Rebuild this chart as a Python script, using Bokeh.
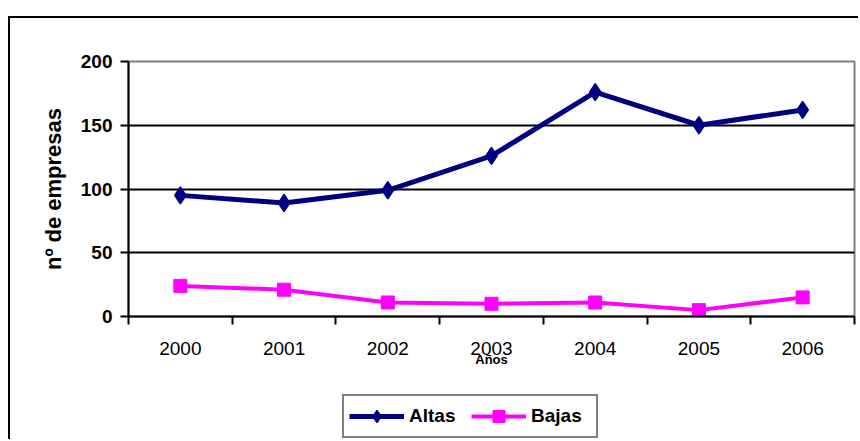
from bokeh.plotting import figure
from bokeh.models import FixedTicker, Legend, LegendItem, Spacer
from bokeh.layouts import column, row
from bokeh.embed import file_html
from bokeh.resources import INLINE

# ---- data ----
years = ["2000", "2001", "2002", "2003", "2004", "2005", "2006"]
altas = [95, 89, 99, 126, 176, 150, 162]
bajas = [24, 21, 11, 10, 11, 5, 15]
y_ticks = [0, 50, 100, 150, 200]
grid_ticks = [50, 100, 150]

FONT = "Liberation Sans"
ALTAS_C = "#000080"
BAJAS_C = "#FF00FF"
xpos = [i + 1 for i in range(len(years))]
bounds = [i + 0.5 for i in range(len(years) + 1)]

p = figure(width=858, height=393, output_backend="svg", toolbar_location=None,
           x_range=(0.5, len(years) + 0.5), y_range=(0, 200),
           min_border_left=128, min_border_right=4, min_border_top=61,
           min_border_bottom=77,
           background_fill_color="white", border_fill_color=None)
p.outline_line_color = "#808080"
p.outline_line_width = 2

# grid
p.xgrid.visible = False
p.ygrid.ticker = FixedTicker(ticks=grid_ticks)
p.ygrid.grid_line_color = "black"
p.ygrid.grid_line_width = 2

# y axis
ya = p.yaxis[0]
ya.ticker = FixedTicker(ticks=y_ticks)
ya.axis_line_width = 2
ya.axis_line_color = "black"
ya.major_tick_in = 0
ya.major_tick_out = 8
ya.major_tick_line_width = 2
ya.minor_tick_line_color = None
ya.major_label_text_font = FONT
ya.major_label_text_font_style = "bold"
ya.major_label_text_font_size = "19px"
ya.major_label_text_color = "black"
ya.major_label_standoff = 8
ya.axis_label = "nº de empresas"
ya.axis_label_text_font = FONT
ya.axis_label_text_font_style = "bold"
ya.axis_label_text_font_size = "22px"
ya.axis_label_text_color = "black"
ya.axis_label_standoff = 12

# x axis
xa = p.xaxis[0]
xa.ticker = FixedTicker(ticks=xpos, minor_ticks=bounds)
xa.major_label_overrides = {xv: yr for xv, yr in zip(xpos, years)}
xa.axis_line_width = 2
xa.axis_line_color = "black"
xa.major_tick_in = 0
xa.major_tick_out = 0
xa.minor_tick_in = 0
xa.minor_tick_out = 8
xa.minor_tick_line_width = 2
xa.minor_tick_line_color = "black"
xa.major_label_text_font = FONT
xa.major_label_text_font_size = "19px"
xa.major_label_text_color = "black"
xa.major_label_standoff = 17
xa.axis_label = "Años"
xa.axis_label_text_font = FONT
xa.axis_label_text_font_style = "bold"
xa.axis_label_text_font_size = "13px"
xa.axis_label_text_color = "black"
xa.axis_label_standoff = -6

# series
p.line(xpos, altas, line_color=ALTAS_C, line_width=5)
p.scatter(xpos, altas, marker="diamond", size=17, fill_color=ALTAS_C,
          line_color=ALTAS_C, line_width=1.5)
p.line(xpos, bajas, line_color=BAJAS_C, line_width=4)
p.scatter(xpos, bajas, marker="square", size=13, fill_color=BAJAS_C,
          line_color=BAJAS_C)

# legend figure (separate so the legend can sit below the axis)
p2 = figure(width=300, height=46, output_backend="svg", toolbar_location=None,
            x_range=(100, 101), y_range=(100, 101), min_border=0,
            x_axis_location=None, y_axis_location=None,
            background_fill_color=None, border_fill_color=None,
            outline_line_color=None)
p2.grid.visible = False
l1 = p2.line(xpos, altas, line_color=ALTAS_C, line_width=5)
m1 = p2.scatter(xpos, altas, marker="diamond", size=17, fill_color=ALTAS_C,
                line_color=ALTAS_C, line_width=1.5)
l2 = p2.line(xpos, bajas, line_color=BAJAS_C, line_width=4)
m2 = p2.scatter(xpos, bajas, marker="square", size=13, fill_color=BAJAS_C,
                line_color=BAJAS_C)

legend = Legend(items=[LegendItem(label="Altas", renderers=[l1, m1]),
                       LegendItem(label="Bajas", renderers=[l2, m2])],
                orientation="horizontal", location="top_left")
legend.border_line_color = "black"
legend.border_line_width = 2
legend.background_fill_color = "white"
legend.background_fill_alpha = 1
legend.label_text_font = FONT
legend.label_text_font_style = "bold"
legend.label_text_font_size = "19px"
legend.label_text_color = "black"
legend.glyph_width = 55
legend.glyph_height = 30
legend.label_standoff = 5
legend.label_width = 60
legend.spacing = 2
legend.padding = 5
legend.margin = 1
p2.add_layout(legend, "center")

layout = column(p, row(Spacer(width=341, height=46), p2))
layout.styles = {"background": "linear-gradient(#000,#000) 8px 16px / 100% 2px no-repeat, "
                               "linear-gradient(#000,#000) 8px 16px / 2px 100% no-repeat"}
open("out.html", "w").write(file_html(layout, INLINE))
